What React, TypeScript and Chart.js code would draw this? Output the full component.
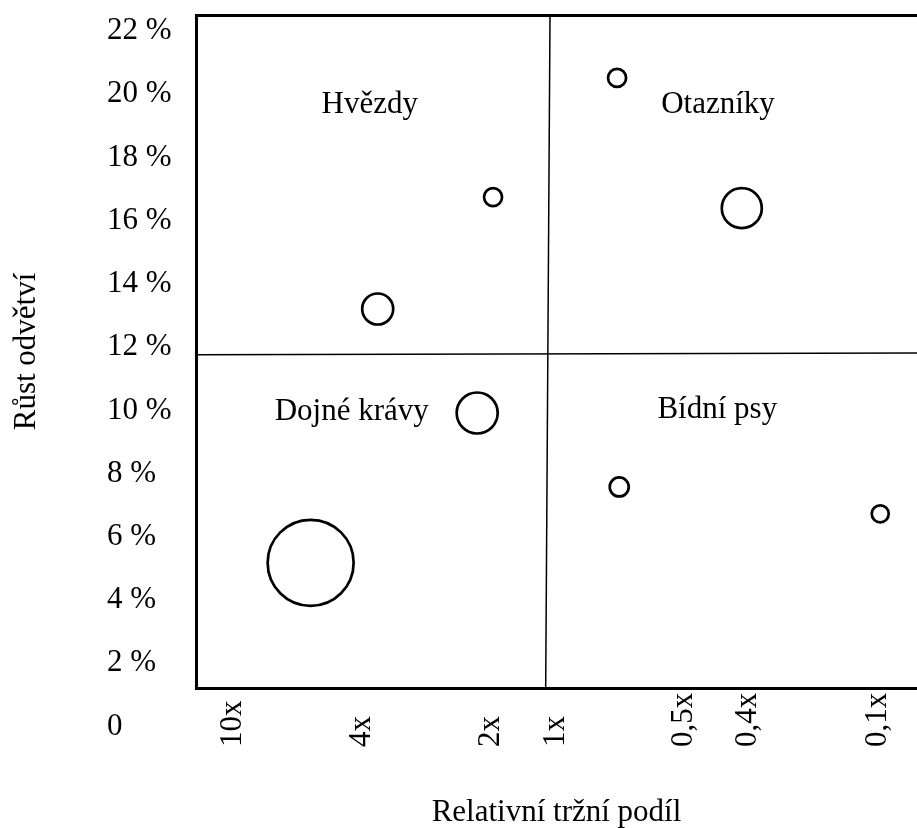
import React, { useEffect, useRef } from 'react';
import { Chart, registerables } from 'chart.js';

Chart.register(...registerables);

const FONT = '"Liberation Serif", "Times New Roman", Times, serif';

// Y axis (market growth, %)
const yTickValues = [0, 2, 4, 6, 8, 10, 12, 14, 16, 18, 20, 22];
const yTickLabels = ['0', '2 %', '4 %', '6 %', '8 %', '10 %', '12 %', '14 %', '16 %', '18 %', '20 %', '22 %'];
const yMin = 1.22;
const yMax = 22.51;

// X axis (relative market share, positions on a 0–100 layout axis)
const xTickPositions = [5.1, 23.0, 40.9, 49.9, 67.6, 76.6, 94.6];
const xTickLabels = ['10x', '4x', '2x', '1x', '0,5x', '0,4x', '0,1x'];
const xMin = 0;
const xMax = 100;

// Bubbles
const bubbleX = [58.4, 41.2, 75.7, 25.2, 39.0, 15.9, 58.7, 94.9];
const bubbleY = [20.52, 16.75, 16.4, 13.21, 9.92, 5.18, 7.58, 6.73];
const bubbleR = [9, 9, 20, 15.5, 20.5, 43, 9.5, 8.5];

// Quadrant dividers
const vDividerX = [49.1, 48.5];
const vDividerY = [22.51, 1.22];
const hDividerX = [0, 100];
const hDividerY = [11.76, 11.82];

// Quadrant names
const quadrantNames = ['Hvězdy', 'Otazníky', 'Dojné krávy', 'Bídní psy'];
const quadrantX = [24.1, 72.4, 21.6, 72.3];
const quadrantY = [19.41, 19.41, 9.7, 9.76];

const xTitle = 'Relativní tržní podíl';
const yTitle = 'Růst odvětví';

const textPlugin = {
  id: 'bcgText',
  afterDraw(chart: any) {
    const { ctx, chartArea } = chart;
    const xs = chart.scales.x;
    const ys = chart.scales.y;
    ctx.save();
    ctx.fillStyle = '#000';
    ctx.font = `31px ${FONT}`;
    // quadrant names
    ctx.textAlign = 'center';
    ctx.textBaseline = 'alphabetic';
    quadrantNames.forEach((name, i) => {
      ctx.fillText(name, xs.getPixelForValue(quadrantX[i]), ys.getPixelForValue(quadrantY[i]));
    });
    // x tick labels, rotated, start-aligned
    ctx.textAlign = 'left';
    ctx.textBaseline = 'middle';
    xTickPositions.forEach((v, i) => {
      ctx.save();
      ctx.translate(xs.getPixelForValue(v), chartArea.bottom + 59);
      ctx.rotate(-Math.PI / 2);
      ctx.fillText(xTickLabels[i], 0, 0);
      ctx.restore();
    });
    ctx.restore();
  },
};

export default function App() {
  const ref = useRef<HTMLCanvasElement>(null);

  useEffect(() => {
    const chart = new Chart(ref.current as HTMLCanvasElement, {
      type: 'bubble',
      data: {
        datasets: [
          {
            type: 'line',
            data: vDividerX.map((x, i) => ({ x, y: vDividerY[i] })),
            borderColor: '#000',
            borderWidth: 1.5,
            pointRadius: 0,
            fill: false,
            xAxisID: 'x',
            yAxisID: 'y',
          } as any,
          {
            type: 'line',
            data: hDividerX.map((x, i) => ({ x, y: hDividerY[i] })),
            borderColor: '#000',
            borderWidth: 1.5,
            pointRadius: 0,
            fill: false,
            xAxisID: 'x',
            yAxisID: 'y',
          } as any,
          {
            type: 'bubble',
            data: bubbleX.map((x, i) => ({ x, y: bubbleY[i], r: bubbleR[i] })),
            backgroundColor: 'rgba(255,255,255,0)',
            borderColor: '#000',
            borderWidth: 2.7,
            xAxisID: 'x',
            yAxisID: 'y',
          },
        ],
      },
      options: {
        animation: false,
        responsive: true,
        maintainAspectRatio: false,
        events: [],
        layout: { autoPadding: false, padding: { top: 15, left: 0, right: 0, bottom: 0 } },
        plugins: { legend: { display: false }, tooltip: { enabled: false } },
        scales: {
          x: {
            type: 'linear',
            position: 'bottom',
            min: xMin,
            max: xMax,
            grid: { display: false, drawTicks: false },
            border: { display: true, width: 3, color: '#000' },
            ticks: { display: false },
            title: {
              display: true,
              text: xTitle,
              color: '#000',
              font: { family: FONT, size: 31, lineHeight: 1 },
              padding: { top: 109, bottom: 0 },
            },
          },
          x2: {
            type: 'linear',
            position: 'top',
            grid: { display: false, drawTicks: false },
            border: { display: true, width: 3, color: '#000' },
            ticks: { display: false },
          },
          y: {
            type: 'linear',
            position: 'left',
            weight: 0,
            min: yMin,
            max: yMax,
            grid: { display: false, drawTicks: false },
            border: { display: true, width: 3, color: '#000' },
            afterBuildTicks: (scale: any) => {
              scale.ticks = yTickValues.map((v) => ({ value: v }));
            },
            afterFit: (scale: any) => {
              scale.paddingTop = 0;
              scale.paddingBottom = 0;
              scale.width = 89;
            },
            ticks: {
              autoSkip: false,
              crossAlign: 'far',
              padding: 0,
              color: '#000',
              font: { family: FONT, size: 31 },
              callback: (value: any) => {
                const i = yTickValues.indexOf(Number(value));
                return i >= 0 ? yTickLabels[i] : '';
              },
            },
          },
          y2: {
            type: 'linear',
            position: 'left',
            weight: 1,
            grid: { display: false, drawTicks: false },
            border: { display: false },
            ticks: { display: false },
            title: {
              display: true,
              text: yTitle,
              color: '#000',
              font: { family: FONT, size: 31, lineHeight: 1 },
              padding: { top: 11.5, bottom: 64.5 },
            },
          },
        },
      } as any,
      plugins: [textPlugin],
    });
    return () => chart.destroy();
  }, []);

  return (
    <div style={{ position: 'absolute', left: 0, top: 0, width: 917, height: 828 }}>
      <canvas ref={ref} />
    </div>
  );
}
